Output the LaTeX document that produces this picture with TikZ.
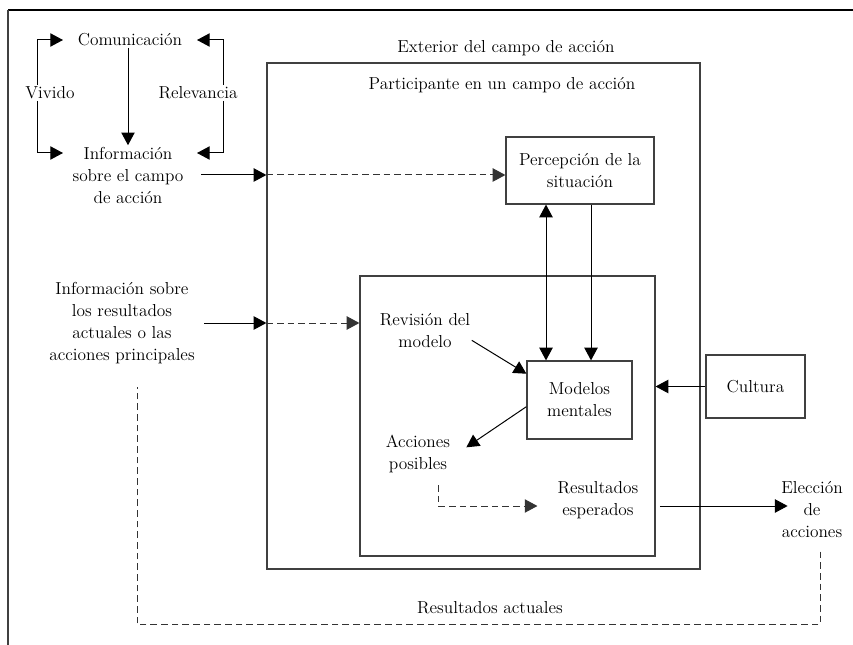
\documentclass[tikz,border=0pt]{standalone}
\usetikzlibrary{arrows.meta}
\tikzset{
  >={Triangle[length=9.5pt,width=10pt]},
  lbl/.style={font=\fontsize{13}{16.5}\selectfont, align=center, inner sep=1pt},
  boxed/.style={draw=black!75, line width=0.9pt},
  arr/.style={->, line width=0.75pt},
  darr/.style={->, line width=0.75pt, draw=black!80, dash pattern=on 5pt off 3pt},
  dline/.style={line width=0.75pt, draw=black!80, dash pattern=on 5pt off 3pt},
  frame/.style={line width=1.4pt}
}
\begin{document}
\begin{tikzpicture}[x=0.75pt,y=-0.75pt]
  \useasboundingbox (0,0) rectangle (853,645);
  \draw[frame] (853,10) -- (8,10);
  \draw[frame, black!75] (8,10) -- (8,645);

  \node[lbl] (com) at (130,40) {Comunicación};
  \node[lbl] (infcampo) at (128,175) {Información\\sobre el campo\\de acción};
  \node[lbl] (vivido) at (50,93) {Vivido};
  \node[lbl] (relev) at (198,93) {Relevancia};
  \node[lbl] (infres) at (122,323) {Información sobre\\los resultados\\actuales o las\\acciones principales};

  \node[lbl] (exterior) at (506,48) {Exterior del campo de acción};
  \node[boxed, minimum width=324.75pt, minimum height=379.5pt] (part) at (483.5,316) {};
  \node[lbl] (partlbl) at (502,85) {Participante en un campo de acción};
  \node[boxed, lbl, minimum width=111pt, minimum height=50.25pt] (perc) at (580,170.5) {Percepción de la\\situación};
  \node[boxed, minimum width=221.25pt, minimum height=210pt] (inner) at (507.5,416) {};
  \node[boxed, lbl, minimum width=78.75pt, minimum height=58.5pt] (modelos) at (579.5,400) {Modelos\\mentales};
  \node[boxed, lbl, minimum width=74.25pt, minimum height=47.25pt] (cultura) at (755.5,386.5) {Cultura};
  \node[lbl] (revis) at (425,331) {Revisión del\\modelo};
  \node[lbl] (acciones) at (418,454) {Acciones\\posibles};
  \node[lbl] (resesp) at (598,500) {Resultados\\esperados};
  \node[lbl] (eleccion) at (812,510) {Elección\\de\\acciones};
  \node[lbl] (resact) at (490,608) {Resultados actuales};

  \coordinate (lv) at (37,93);
  \coordinate (rv) at (223,93);
  \coordinate (vivcom) at (63,40);
  \coordinate (vivinf) at (63,153);
  \coordinate (relcom) at (197,40);
  \coordinate (relinf) at (197,153);
  \draw[arr] (lv |- vivido.north) |- (vivcom);
  \draw[arr] (lv |- vivido.south) |- (vivinf);
  \draw[arr] (rv |- relev.north) |- (relcom);
  \draw[arr] (rv |- relev.south) |- (relinf);
  \draw[arr] (com.south -| infcampo.north) -- (infcampo.north);

  \draw[arr] ([xshift=12pt]infcampo.east) -- (infcampo.east -| part.west);
  \draw[darr] (infcampo.east -| part.west) -- (infcampo.east -| perc.west);
  \draw[arr] ([xshift=6pt]infres.east) -- (infres.east -| part.west);
  \draw[darr] (infres.east -| part.west) -- (infres.east -| inner.west);

  \draw[<->, line width=0.75pt] ([xshift=-25.5pt]perc.south) -- ([xshift=-25.5pt]perc.south |- modelos.north);
  \draw[arr] ([xshift=8.25pt]perc.south) -- ([xshift=8.25pt]perc.south |- modelos.north);
  \draw[arr] (cultura.west) -- (cultura.west -| inner.east);
  \draw[arr] ([yshift=-7pt]revis.east) -- ([yshift=-10pt]modelos.north west);
  \draw[arr] ([yshift=-5pt]modelos.west) -- ([xshift=11pt,yshift=5pt]acciones.east);
  \coordinate (esptip) at ([xshift=-14pt,yshift=-4.5pt]resesp.west);
  \draw[darr] ([xshift=15pt,yshift=-8pt]acciones.south) |- (esptip);
  \draw[arr] ([xshift=15pt,yshift=-4.5pt]resesp.east) -- ([yshift=-4.5pt,xshift=6pt]resesp.east -| eleccion.west);
  \draw[dline] ([xshift=6pt,yshift=-9pt]eleccion.south) -- ++(0,73) -| ([xshift=11.25pt,yshift=-16pt]infres.south);
\end{tikzpicture}
\end{document}
